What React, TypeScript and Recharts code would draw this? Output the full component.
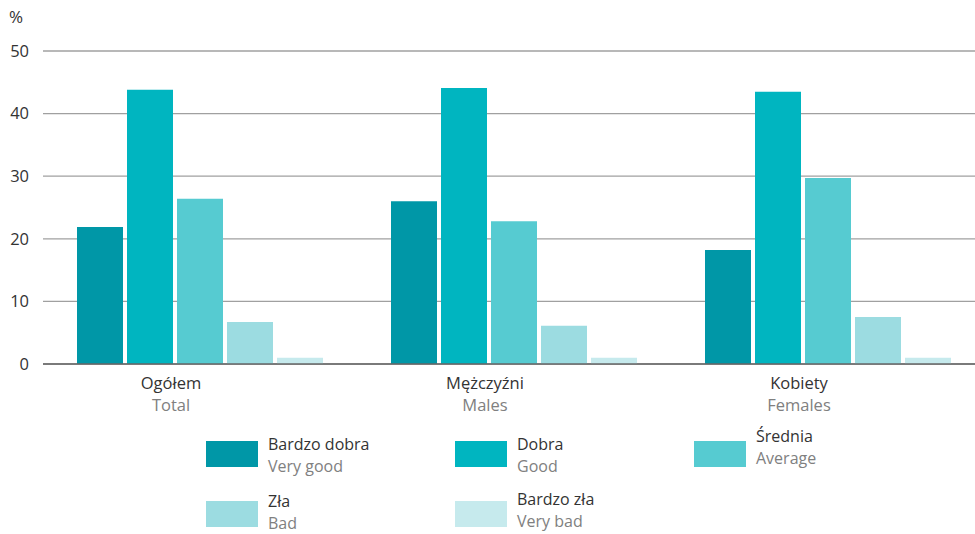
import React from 'react'
import { Bar, BarChart, CartesianGrid, XAxis, YAxis } from 'recharts'

const categoriesPl = ['Ogółem', 'Mężczyźni', 'Kobiety']
const categoriesEn = ['Total', 'Males', 'Females']
const seriesPl = ['Bardzo dobra', 'Dobra', 'Średnia', 'Zła', 'Bardzo zła']
const seriesEn = ['Very good', 'Good', 'Average', 'Bad', 'Very bad']
const veryGood = [21.9, 26.0, 18.2]
const good = [43.8, 44.1, 43.5]
const average = [26.4, 22.8, 29.7]
const bad = [6.7, 6.1, 7.5]
const veryBad = [1.0, 1.0, 1.0]
const yTicks = [0, 10, 20, 30, 40, 50]

const colors = ['#0097a7', '#00b5c0', '#56cbd1', '#9cdce1', '#c6eaed']
const keys = ['veryGood', 'good', 'average', 'bad', 'veryBad']

const data = categoriesPl.map((name, i) => ({
    name,
    en: categoriesEn[i],
    veryGood: veryGood[i],
    good: good[i],
    average: average[i],
    bad: bad[i],
    veryBad: veryBad[i],
}))

// legend placement: swatch left/top, centre y of the two text lines
const legendPos = [
    { left: 206, top: 441, y1: 444, y2: 466 },
    { left: 455, top: 441, y1: 444, y2: 466 },
    { left: 694, top: 441, y1: 436, y2: 458 },
    { left: 206, top: 501, y1: 501, y2: 523 },
    { left: 455, top: 501, y1: 499, y2: 521 },
]

const font = '"Open Sans", sans-serif'

const CategoryTick = (props: any) => {
    const { x, y, payload, index } = props
    return (
        <g>
            <text x={x - 29} y={y + 17} textAnchor="middle" fontSize={16.5} fill="#333" fontFamily={font}>
                {payload.value}
            </text>
            <text x={x - 29} y={y + 39} textAnchor="middle" fontSize={16.5} fill="#808080" fontFamily={font}>
                {categoriesEn[index]}
            </text>
        </g>
    )
}

const lineStyle = (y: number, left: number, color: string): React.CSSProperties => ({
    position: 'absolute',
    left,
    top: y - 11,
    fontSize: 16,
    lineHeight: 'normal',
    color,
    whiteSpace: 'nowrap',
})

const App = () => {
    return (
        <div style={{ position: 'absolute', left: 0, top: 0, width: 975, height: 534, background: '#fff', overflow: 'hidden', fontFamily: font }}>
            <div style={{ position: 'absolute', left: 9, top: 7, fontSize: 17, lineHeight: '20px', color: '#333' }}>%</div>
            <BarChart
                width={975}
                height={534}
                data={data}
                margin={{ top: 51, right: -10, left: 0, bottom: 140 }}
                barSize={46}
                barGap={4}
            >
                <CartesianGrid vertical={false} stroke="#a0a0a0" strokeWidth={1.3} />
                <XAxis
                    dataKey="name"
                    height={30}
                    tickLine={false}
                    axisLine={{ stroke: '#666', strokeWidth: 1.3 }}
                    tick={<CategoryTick />}
                    interval={0}
                />
                <YAxis
                    width={43}
                    domain={[0, 50]}
                    ticks={yTicks}
                    tickLine={false}
                    axisLine={false}
                    tickMargin={8}
                    tick={{ fill: '#333', fontSize: 16.5, fontFamily: font }}
                />
                {keys.map((k, i) => (
                    <Bar key={k} dataKey={k} name={seriesPl[i]} fill={colors[i]} isAnimationActive={false} />
                ))}
            </BarChart>
            {seriesPl.map((s, i) => (
                <div key={s}>
                    <div style={{ position: 'absolute', left: legendPos[i].left, top: legendPos[i].top, width: 52, height: 26, background: colors[i] }} />
                    <div style={lineStyle(legendPos[i].y1, legendPos[i].left + 62, '#333')}>{s}</div>
                    <div style={lineStyle(legendPos[i].y2, legendPos[i].left + 62, '#808080')}>{seriesEn[i]}</div>
                </div>
            ))}
        </div>
    )
}

export default App
